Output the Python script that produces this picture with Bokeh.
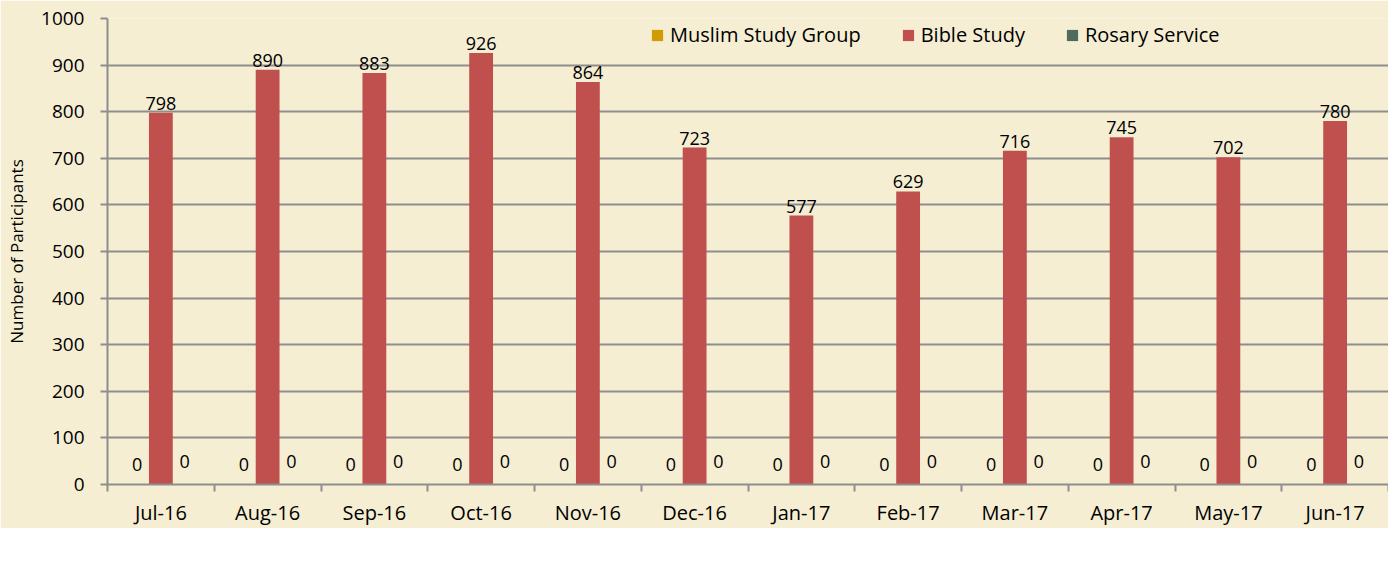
from bokeh.plotting import figure
from bokeh.models import Range1d, FixedTicker, Legend, LegendItem, ColumnDataSource
from bokeh.core.properties import value
from bokeh.transform import dodge
from bokeh.embed import file_html
from bokeh.resources import INLINE

months = ["Jul-16", "Aug-16", "Sep-16", "Oct-16", "Nov-16", "Dec-16",
          "Jan-17", "Feb-17", "Mar-17", "Apr-17", "May-17", "Jun-17"]
muslim = [0, 0, 0, 0, 0, 0, 0, 0, 0, 0, 0, 0]
bible = [798, 890, 883, 926, 864, 723, 577, 629, 716, 745, 702, 780]
rosary = [0, 0, 0, 0, 0, 0, 0, 0, 0, 0, 0, 0]
y_ticks = list(range(0, 1001, 100))

FONT = "Open Sans"
BG = "#F5EED3"
GRID = "#8E8E8E"
C_MUSLIM = "#D09C02"
C_BIBLE = "#C0504D"
C_ROSARY = "#4F6B5C"

xs = [i + 0.5 for i in range(len(months))]
src = ColumnDataSource(dict(x=xs, month=months, muslim=muslim, bible=bible, rosary=rosary,
                            muslim_t=[str(v) for v in muslim],
                            bible_t=[str(v) for v in bible],
                            rosary_t=[str(v) for v in rosary]))

p = figure(frame_width=1281, frame_height=466,
           x_range=Range1d(0, 12), y_range=Range1d(0, 1000),
           output_backend="svg", toolbar_location=None,
           min_border_left=107, min_border_top=18, min_border_right=0, min_border_bottom=0)
p.background_fill_color = BG
p.border_fill_color = BG
p.outline_line_color = None

BW = 0.223
r1 = p.vbar(x=dodge("x", -BW, range=p.x_range), top="muslim", width=BW, source=src,
            fill_color=C_MUSLIM, line_color=None)
r2 = p.vbar(x="x", top="bible", width=BW, source=src, fill_color=C_BIBLE, line_color=None)
r3 = p.vbar(x=dodge("x", BW, range=p.x_range), top="rosary", width=BW, source=src,
            fill_color=C_ROSARY, line_color=None)

lab = dict(text_font=value(FONT), text_font_size="18px", text_color="#000000",
           text_align="center", text_baseline="bottom", source=src)
p.text(x="x", y="bible", text="bible_t", y_offset=-3, **lab)
p.text(x=dodge("x", -BW, range=p.x_range), y="muslim", text="muslim_t", y_offset=-14, **lab)
p.text(x=dodge("x", BW, range=p.x_range), y="rosary", text="rosary_t", y_offset=-17, **lab)

# axes
xa = p.xaxis[0]
xa.ticker = FixedTicker(ticks=xs, minor_ticks=list(range(len(months) + 1)))
xa.major_label_overrides = {x: m for x, m in zip(xs, months)}
xa.major_tick_line_color = None
xa.minor_tick_in = 0
xa.minor_tick_out = 7
xa.minor_tick_line_color = GRID
xa.minor_tick_line_width = 2
xa.axis_line_color = GRID
xa.axis_line_width = 2
xa.major_label_text_font = FONT
xa.major_label_text_font_size = "20px"
xa.major_label_text_color = "#000000"
xa.major_label_standoff = 7

ya = p.yaxis[0]
ya.ticker = FixedTicker(ticks=y_ticks)
ya.major_tick_in = 0
ya.major_tick_out = 7
ya.major_tick_line_color = GRID
ya.major_tick_line_width = 2
ya.minor_tick_line_color = None
ya.axis_line_color = GRID
ya.axis_line_width = 2
ya.major_label_text_font = FONT
ya.major_label_text_font_size = "19px"
ya.major_label_text_color = "#000000"
ya.major_label_standoff = 16
ya.axis_label = "Number of Participants"
ya.axis_label_text_font = FONT
ya.axis_label_text_font_size = "17px"
ya.axis_label_text_font_style = "normal"
ya.axis_label_text_color = "#000000"
ya.axis_label_standoff = 10

p.xgrid.visible = False
p.ygrid.grid_line_color = GRID
p.ygrid.grid_line_width = 2

legend = Legend(items=[LegendItem(label="Muslim Study Group", renderers=[r1]),
                       LegendItem(label="Bible Study", renderers=[r2]),
                       LegendItem(label="Rosary Service", renderers=[r3])],
                orientation="horizontal", location=(543, 436))
legend.background_fill_color = BG
legend.background_fill_alpha = 1
legend.border_line_color = None
legend.label_text_font = FONT
legend.label_text_font_size = "20px"
legend.label_text_color = "#000000"
legend.glyph_width = 14
legend.glyph_height = 14
legend.label_standoff = 6
legend.spacing = 40
legend.padding = 0
legend.margin = 0
p.add_layout(legend, "center")

open("out.html", "w").write(file_html(p, INLINE))
